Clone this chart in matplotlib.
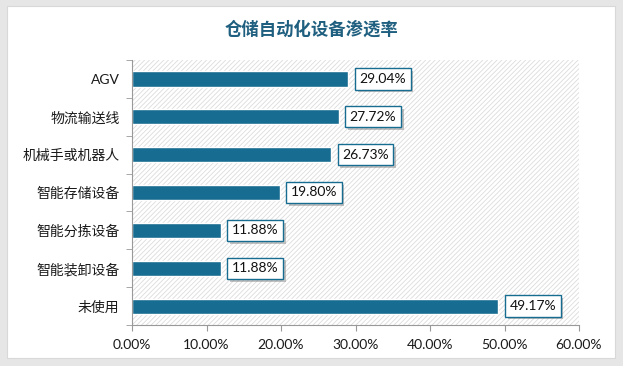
import matplotlib
matplotlib.use("Agg")
import matplotlib.pyplot as plt
from matplotlib.patches import Rectangle, FancyBboxPatch
import matplotlib.patheffects as pe
from matplotlib.ticker import FuncFormatter, MultipleLocator

categories = ["AGV", "物流输送线", "机械手或机器人", "智能存储设备", "智能分拣设备", "智能装卸设备", "未使用"]
values = [29.04, 27.72, 26.73, 19.80, 11.88, 11.88, 49.17]
title = "仓储自动化设备渗透率"

bar_color = "#176C91"
title_color = "#1F5F7F"
fonts = ["Lato", "Noto Sans CJK SC", "DejaVu Sans"]
plt.rcParams["font.family"] = fonts
plt.rcParams["hatch.linewidth"] = 0.6

fig = plt.figure(figsize=(6.23, 3.66), dpi=100)
fig.patch.set_facecolor("#E6E6E6")
card = FancyBboxPatch((7/623, 8/366), 608/623, 352/366, boxstyle="square,pad=0",
                      transform=fig.transFigure, facecolor="white", edgecolor="#D8D8D8",
                      linewidth=0.8, zorder=-10)
fig.patches.append(card)

ax = fig.add_axes([132/623, 1-325/366, (579-132)/623, (325-60)/366])
ax.set_facecolor("none")
ax.add_patch(Rectangle((0, 0), 1, 1, transform=ax.transAxes, facecolor="white",
                       edgecolor="#DCDCDC", hatch="///////", linewidth=0, zorder=0))

n = len(categories)
ypos = list(range(n))
ax.barh(ypos, values, height=0.4, color=bar_color, edgecolor="white", linewidth=1.0, zorder=2)
ax.set_ylim(n - 0.5, -0.5)
ax.set_xlim(0, 60)
ax.xaxis.set_major_locator(MultipleLocator(10))
ax.xaxis.set_major_formatter(FuncFormatter(lambda v, p: f"{v:.2f}%"))
ax.set_yticks(ypos)
ax.set_yticklabels(categories)
ax.set_yticks([i - 0.5 for i in range(n + 1)], minor=True)
ax.tick_params(axis="y", which="major", length=0, pad=9, labelsize=10, colors="#1A1A1A")
ax.tick_params(axis="y", which="minor", length=4, color="#999999", direction="out")
ax.tick_params(axis="x", length=4, color="#999999", labelsize=10, colors="#1A1A1A", pad=6)
for s in ["top", "right"]:
    ax.spines[s].set_visible(False)
for s in ["left", "bottom"]:
    ax.spines[s].set_color("#999999")
    ax.spines[s].set_linewidth(0.8)

for y, v in zip(ypos, values):
    t = ax.annotate(f"{v:.2f}%", (v, y), xytext=(8, 0), textcoords="offset points",
                    va="center", ha="left", fontsize=10, color="#111111", zorder=5,
                    bbox=dict(boxstyle="square,pad=0.33", facecolor="white",
                              edgecolor=bar_color, linewidth=1.0))
    t.get_bbox_patch().set_path_effects([
        pe.SimplePatchShadow(offset=(2, -2), shadow_rgbFace="#888888", alpha=0.5),
        pe.Normal()])

fig.text(0.5, 1 - 30/366, title, ha="center", va="center", fontsize=12.5,
         fontweight="bold", color=title_color, family=["Noto Sans CJK SC", "DejaVu Sans"])

fig.savefig("out.png", dpi=100)
